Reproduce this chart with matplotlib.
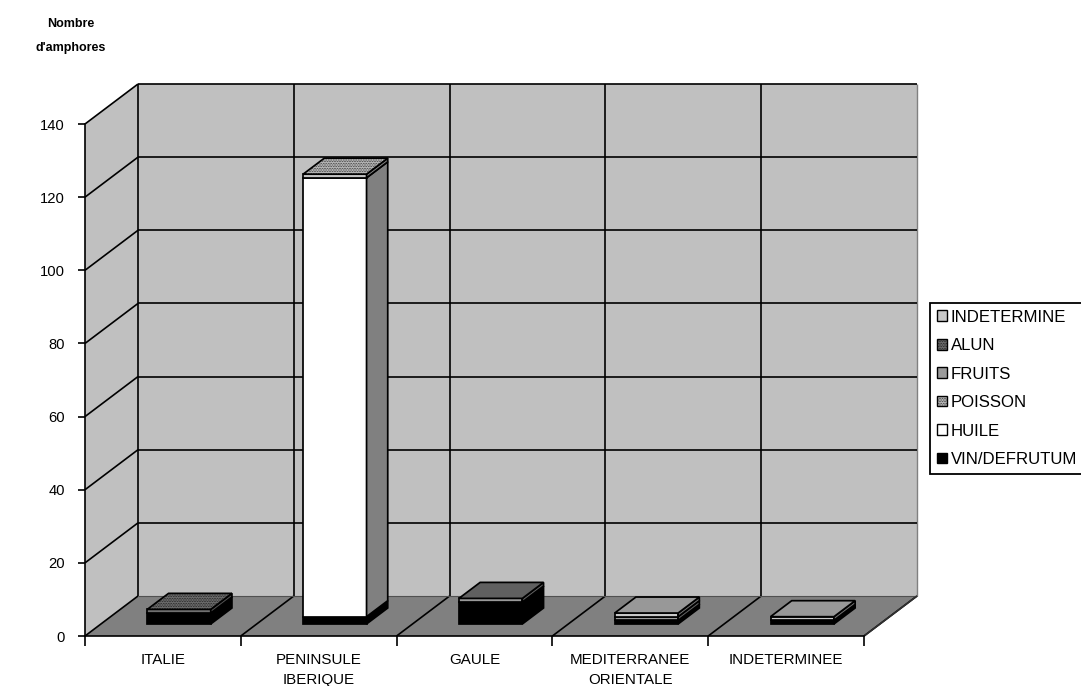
import matplotlib
matplotlib.use("Agg")
import matplotlib.pyplot as plt
from matplotlib.patches import Polygon, Patch

plt.rcParams['font.family'] = ['Liberation Sans', 'DejaVu Sans']
plt.rcParams['hatch.linewidth'] = 0.3

categories = ['ITALIE', 'PENINSULE\nIBERIQUE', 'GAULE', 'MEDITERRANEE\nORIENTALE', 'INDETERMINEE']
series_names = ['VIN/DEFRUTUM', 'HUILE', 'POISSON', 'FRUITS', 'ALUN', 'INDETERMINE']
vin = [3, 2, 6, 1, 1]
huile = [0, 120, 0, 0, 0]
poisson = [0, 1, 0, 0, 0]
fruits = [0, 0, 1, 1, 0]
alun = [1, 0, 0, 0, 0]
indetermine = [0, 0, 0, 1, 1]
series_values = [vin, huile, poisson, fruits, alun, indetermine]
y_ticks = [0, 20, 40, 60, 80, 100, 120, 140]

# front, top, side colours and hatch of each series
front = ['#000000', '#ffffff', '#c4c4c4', '#9a9a9a', '#707070', '#c8c8c8']
top = ['#000000', '#ffffff', '#b4b4b4', '#606060', '#6a6a6a', '#989898']
side = ['#000000', '#808080', '#808080', '#606060', '#505050', '#707070']
hatch = [None, None, '..........', None, '..........', None]

W, H = 1081, 686
fig = plt.figure(figsize=(W / 100, H / 100), dpi=100, facecolor='white')
L, R, T, B = 85, 864, 124, 636
ax = fig.add_axes([L / W, 1 - B / H, (R - L) / W, (B - T) / H])
ax.set_xlim(0, len(categories))
ax.set_ylim(0, y_ticks[-1])
ax.patch.set_visible(False)

DX = 53 / ((R - L) / len(categories))
DY = 40 / ((B - T) / y_ticks[-1])


def P(x, y, d=0.0):
    return (x + d * DX, y + d * DY)


def poly(points, fc, ec='none', lw=0.0, z=1, h=None):
    ax.add_patch(Polygon(points, closed=True, facecolor=fc, edgecolor=ec, linewidth=lw,
                         zorder=z, clip_on=False, hatch=h, joinstyle='miter'))


def line(a, b, c='black', lw=1.2, z=2):
    ax.plot([a[0], b[0]], [a[1], b[1]], color=c, lw=lw, zorder=z, clip_on=False,
            solid_capstyle='butt')


n = len(categories)
ymax = y_ticks[-1]
# walls
poly([P(0, 0), P(0, 0, 1), P(0, ymax, 1), P(0, ymax)], '#c0c0c0', z=1)
poly([P(0, 0, 1), P(n, 0, 1), P(n, ymax, 1), P(0, ymax, 1)], '#c0c0c0', z=1)
poly([P(0, 0), P(n, 0), P(n, 0, 1), P(0, 0, 1)], '#808080', z=1)
line(P(n, 0, 1), P(n, ymax, 1), c='#808080', lw=1.0)

# grid
for v in y_ticks[1:]:
    line(P(0, v), P(0, v, 1))
    line(P(0, v, 1), P(n, v, 1))
for i in range(n + 1):
    line(P(i, 0), P(i, 0, 1))
    if i < n:
        line(P(i, 0, 1), P(i, ymax, 1))
line(P(0, 0, 1), P(n, 0, 1), c='#505050', lw=0.8)
line(P(n, 0), P(n, 0, 1), lw=1.2, c='#303030')

# stacked bars
x0, x1, d0, d1 = 0.298, 0.705, 0.3, 0.7
z = 3
for c in range(n):
    base = 0.0
    layers = [(k, series_values[k][c]) for k in range(len(series_names)) if series_values[k][c] > 0]
    for j, (k, v) in enumerate(layers):
        a, b = base, base + v
        X0, X1 = c + x0, c + x1
        poly([P(X0, a, d0), P(X1, a, d0), P(X1, b, d0), P(X0, b, d0)], front[k], 'black', 1.25, z)
        poly([P(X1, a, d0), P(X1, a, d1), P(X1, b, d1), P(X1, b, d0)], side[k], 'black', 1.25, z)
        if j == len(layers) - 1:
            poly([P(X0, b, d0), P(X1, b, d0), P(X1, b, d1), P(X0, b, d1)], top[k], 'black', 1.25, z,
                 hatch[k])
        base = b
        z += 1

# axes
for s in ('top', 'right'):
    ax.spines[s].set_visible(False)
for s in ('left', 'bottom'):
    ax.spines[s].set_linewidth(1.2)
    ax.spines[s].set_zorder(50)
ax.set_yticks(y_ticks)
ax.tick_params(axis='y', length=5, width=1.2, labelsize=10.6, pad=9.5)
ax.set_xticks(range(n + 1))
ax.set_xticklabels([''] * (n + 1))
ax.tick_params(axis='x', length=7.2, width=1.2)
ax.set_xticks([i + 0.5 for i in range(n)], minor=True)
ax.set_xticklabels(categories, minor=True, fontsize=10.9, linespacing=1.5)
ax.tick_params(axis='x', which='minor', length=0, pad=12.5)

fig.text(71 / W, 1 - 36 / H, "Nombre\nd'amphores", ha='center', va='center',
         fontsize=9.0, fontweight='bold', linespacing=2.37)

# legend
handles = [Patch(facecolor=front[k] if hatch[k] is None else top[k], edgecolor='black',
                 linewidth=1.0, hatch=hatch[k], label=series_names[k])
           for k in reversed(range(len(series_names)))]
leg = fig.legend(handles=handles, loc='upper left',
                 bbox_to_anchor=(930 / W, 1 - 303 / H), bbox_transform=fig.transFigure,
                 fontsize=12.1, frameon=True, fancybox=False, edgecolor='black', framealpha=1,
                 borderpad=0.4, labelspacing=0.8, handlelength=0.6, handleheight=0.6,
                 handletextpad=0.22, borderaxespad=0)
leg.get_frame().set_linewidth(1.3)

fig.savefig('out.png', dpi=100)
